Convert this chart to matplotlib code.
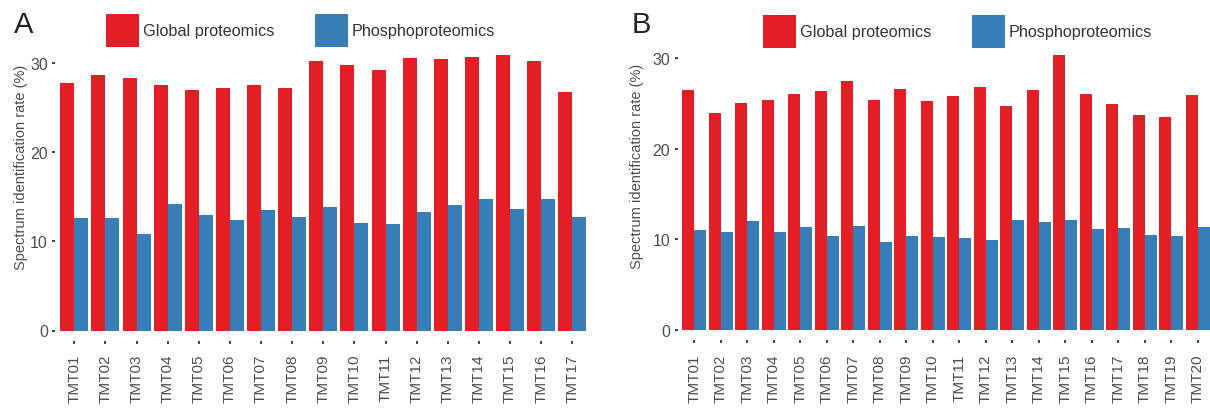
import numpy as np
import matplotlib
matplotlib.use('Agg')
import matplotlib.pyplot as plt

plt.rcParams['font.family'] = ['Liberation Sans', 'DejaVu Sans']

# Panel A: 17 TMT sets
labels_a = ['TMT%02d' % i for i in range(1, 18)]
global_a = [27.7, 28.7, 28.3, 27.5, 27.0, 27.2, 27.5, 27.2, 30.2, 29.8,
            29.2, 30.5, 30.4, 30.7, 30.9, 30.2, 26.7]
phospho_a = [12.6, 12.6, 10.8, 14.2, 13.0, 12.4, 13.5, 12.7, 13.9, 12.1,
             11.95, 13.3, 14.1, 14.7, 13.6, 14.7, 12.7]

# Panel B: 20 TMT sets
labels_b = ['TMT%02d' % i for i in range(1, 21)]
global_b = [26.5, 24.0, 25.1, 25.4, 26.0, 26.4, 27.5, 25.4, 26.6, 25.3,
            25.8, 26.8, 24.7, 26.5, 30.4, 26.0, 24.9, 23.7, 23.5, 25.9]
phospho_b = [11.0, 10.8, 12.0, 10.8, 11.3, 10.3, 11.5, 9.7, 10.3, 10.2,
             10.1, 9.9, 12.1, 11.9, 12.1, 11.1, 11.2, 10.5, 10.4, 11.3]

RED = '#E31E24'
BLUE = '#377EB8'
TXT = '#4d4d4d'
W, H = 1210, 414

fig = plt.figure(figsize=(W / 100, H / 100), dpi=100)


def panel(rect, labels, g, p, letter, letter_x, leg_xy, ylab_xy):
    ax = fig.add_axes(rect)
    # spines first: moving them resets the tick setup
    for s in ax.spines.values():
        s.set_visible(False)
    ax.spines['left'].set_position(('outward', 2.5))
    ax.spines['bottom'].set_position(('outward', 7.5))

    x = np.arange(len(labels))
    bw = 0.45
    ax.bar(x - bw / 2, g, bw, color=RED, label='Global proteomics')
    ax.bar(x + bw / 2, p, bw, color=BLUE, label='Phosphoproteomics')
    ax.set_xlim(-0.5, len(labels) - 0.5)
    ax.set_ylim(0, 32)
    ax.set_yticks([0, 10, 20, 30])
    ax.set_xticks(x)
    ax.set_xticklabels(labels)
    ax.tick_params(axis='y', length=2.4, width=1.3, pad=3, labelsize=11.5,
                   colors='#333333', labelcolor=TXT)
    ax.tick_params(axis='x', length=2.4, width=1.3, pad=7, labelsize=11,
                   colors='#333333', labelcolor=TXT, labelrotation=90)
    ax.set_ylabel('Spectrum identification rate (%)', fontsize=10.5, color=TXT)
    ax.yaxis.set_label_coords(*ylab_xy)
    fig.text(letter_x / W, 1 - 33 / H, letter, fontsize=21, color='#222222',
             va='baseline', ha='left')
    fig.legend(handles=ax.get_legend_handles_labels()[0],
               loc='upper left', bbox_to_anchor=(leg_xy[0] / W, 1 - leg_xy[1] / H),
               ncol=2, frameon=False, fontsize=11.7, borderpad=0,
               borderaxespad=0, handlelength=2.03, handleheight=2.75,
               handletextpad=0.25, columnspacing=2.5, labelcolor='#333333')
    return ax


panel([58.8 / W, (H - 331.5) / H, 529.1 / W, 285.4 / H],
      labels_a, global_a, phospho_a, 'A', 14, (106, 14.5), (-0.058, 0.575))
panel([681 / W, (H - 330.7) / H, 530 / W, 289.6 / H],
      labels_b, global_b, phospho_b, 'B', 632, (763, 16), (-0.07, 0.567))

fig.savefig('out.png', dpi=100)
